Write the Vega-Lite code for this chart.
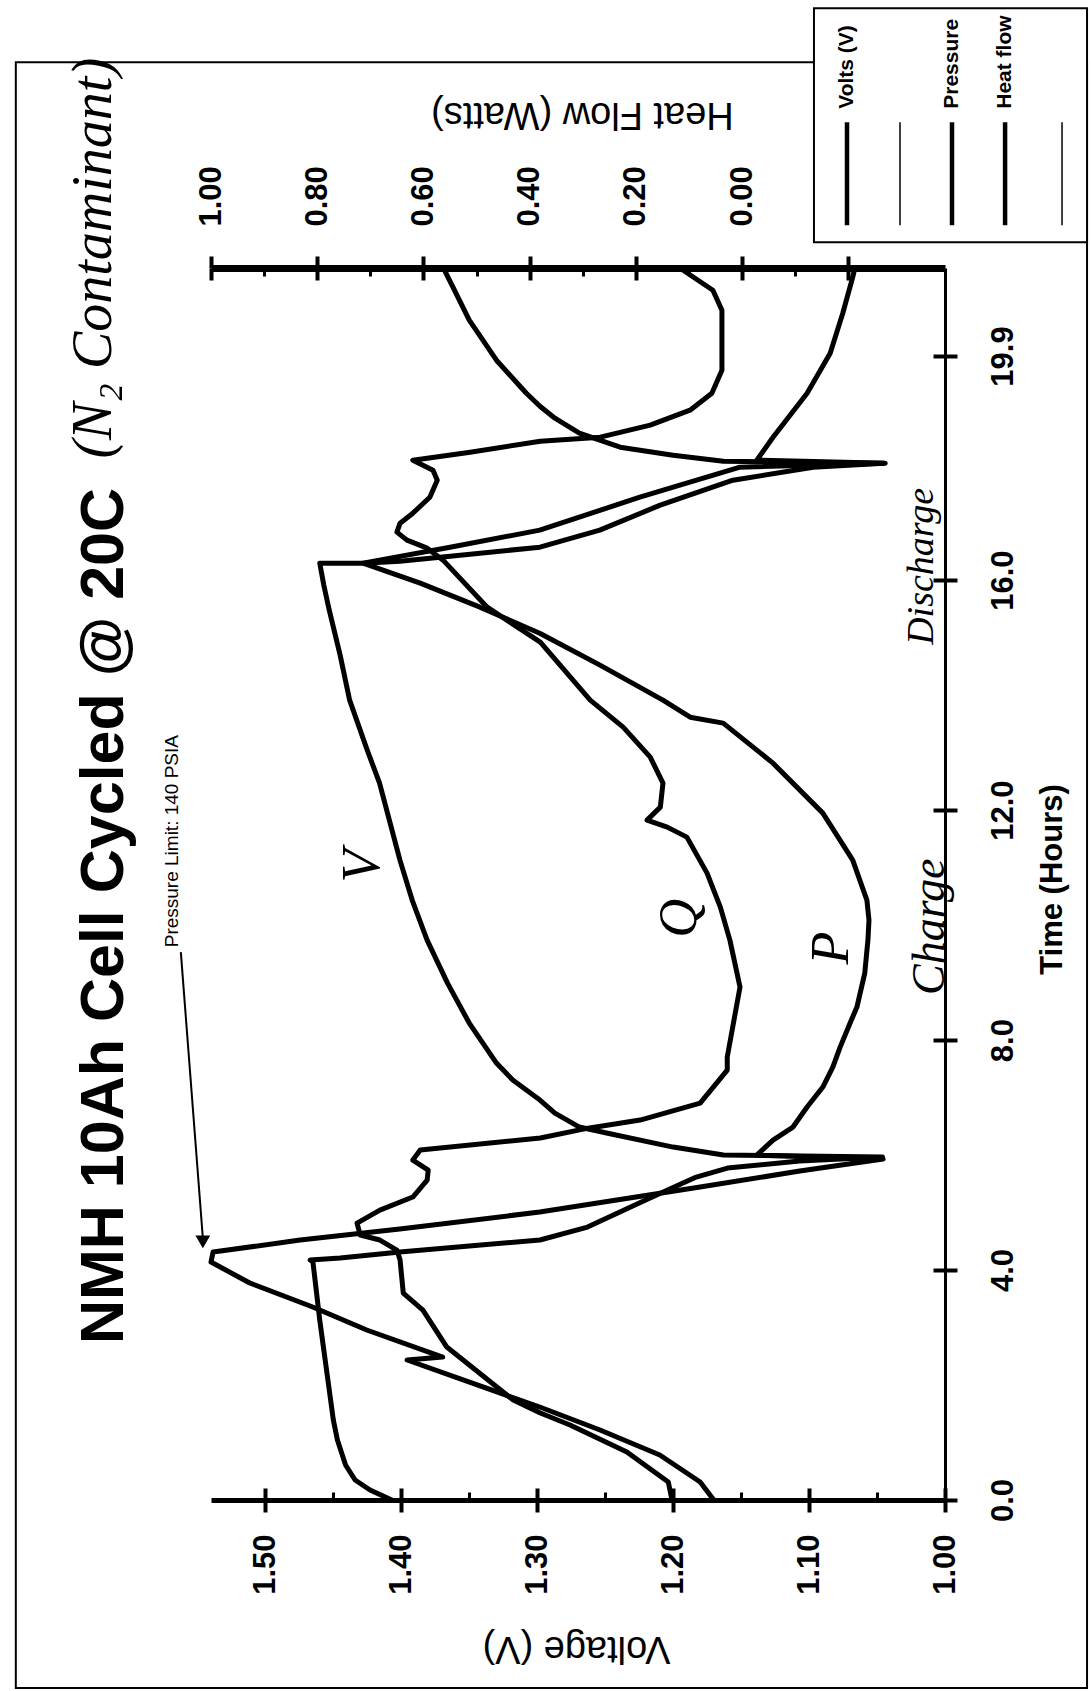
{
  "$schema": "https://vega.github.io/schema/vega-lite/v6.json",
  "width": 734,
  "height": 1232,
  "autosize": {"type": "none"},
  "padding": {"left": 211, "top": 268, "right": 146, "bottom": 191},
  "background": "white",
  "title": {
    "text": "NMH 10Ah Cell Cycled @ 20C",
    "orient": "left",
    "anchor": "middle",
    "frame": "group",
    "font": "Liberation Sans",
    "fontSize": 61,
    "fontWeight": "bold",
    "color": "black",
    "baseline": "alphabetic",
    "offset": -169,
    "dx": -32
  },
  "datasets": {
    "volts": [
      {"s":"Volts (V)","i":0,"t":0.0,"v":1.407},{"s":"Volts (V)","i":1,"t":0.174,"v":1.423},{"s":"Volts (V)","i":2,"t":0.348,"v":1.434},
      {"s":"Volts (V)","i":3,"t":0.609,"v":1.441},{"s":"Volts (V)","i":4,"t":1.043,"v":1.447},{"s":"Volts (V)","i":5,"t":1.391,"v":1.450},
      {"s":"Volts (V)","i":6,"t":2.087,"v":1.454},{"s":"Volts (V)","i":7,"t":3.130,"v":1.460},{"s":"Volts (V)","i":8,"t":4.139,"v":1.465},
      {"s":"Volts (V)","i":9,"t":4.174,"v":1.467},{"s":"Volts (V)","i":10,"t":4.209,"v":1.445},{"s":"Volts (V)","i":11,"t":4.313,"v":1.401},
      {"s":"Volts (V)","i":12,"t":4.417,"v":1.350},{"s":"Volts (V)","i":13,"t":4.522,"v":1.298},{"s":"Volts (V)","i":14,"t":4.748,"v":1.263},
      {"s":"Volts (V)","i":15,"t":5.252,"v":1.217},{"s":"Volts (V)","i":16,"t":5.617,"v":1.183},{"s":"Volts (V)","i":17,"t":5.774,"v":1.160},
      {"s":"Volts (V)","i":18,"t":5.896,"v":1.107},{"s":"Volts (V)","i":19,"t":5.965,"v":1.046},{"s":"Volts (V)","i":20,"t":6.000,"v":1.163},
      {"s":"Volts (V)","i":21,"t":6.139,"v":1.200},{"s":"Volts (V)","i":22,"t":6.383,"v":1.249},{"s":"Volts (V)","i":23,"t":6.487,"v":1.269},
      {"s":"Volts (V)","i":24,"t":6.730,"v":1.287},{"s":"Volts (V)","i":25,"t":6.957,"v":1.298},{"s":"Volts (V)","i":26,"t":7.304,"v":1.318},
      {"s":"Volts (V)","i":27,"t":7.600,"v":1.330},{"s":"Volts (V)","i":28,"t":8.296,"v":1.350},{"s":"Volts (V)","i":29,"t":8.991,"v":1.366},
      {"s":"Volts (V)","i":30,"t":9.739,"v":1.381},{"s":"Volts (V)","i":31,"t":10.435,"v":1.392},{"s":"Volts (V)","i":32,"t":11.130,"v":1.401},
      {"s":"Volts (V)","i":33,"t":12.470,"v":1.416},{"s":"Volts (V)","i":34,"t":13.040,"v":1.425},{"s":"Volts (V)","i":35,"t":13.913,"v":1.438},
      {"s":"Volts (V)","i":36,"t":14.696,"v":1.445},{"s":"Volts (V)","i":37,"t":15.478,"v":1.453},{"s":"Volts (V)","i":38,"t":15.913,"v":1.457},
      {"s":"Volts (V)","i":39,"t":16.296,"v":1.460},{"s":"Volts (V)","i":40,"t":16.296,"v":1.428},{"s":"Volts (V)","i":41,"t":16.330,"v":1.401},
      {"s":"Volts (V)","i":42,"t":16.417,"v":1.364},{"s":"Volts (V)","i":43,"t":16.574,"v":1.298},{"s":"Volts (V)","i":44,"t":16.870,"v":1.254},
      {"s":"Volts (V)","i":45,"t":17.300,"v":1.210},{"s":"Volts (V)","i":46,"t":17.739,"v":1.156},{"s":"Volts (V)","i":47,"t":17.965,"v":1.097},
      {"s":"Volts (V)","i":48,"t":18.035,"v":1.045},{"s":"Volts (V)","i":49,"t":18.070,"v":1.163},{"s":"Volts (V)","i":50,"t":18.174,"v":1.200},
      {"s":"Volts (V)","i":51,"t":18.313,"v":1.239},{"s":"Volts (V)","i":52,"t":18.557,"v":1.269},{"s":"Volts (V)","i":53,"t":18.817,"v":1.287},
      {"s":"Volts (V)","i":54,"t":19.026,"v":1.298},{"s":"Volts (V)","i":55,"t":19.252,"v":1.308},{"s":"Volts (V)","i":56,"t":19.826,"v":1.330},
      {"s":"Volts (V)","i":57,"t":20.522,"v":1.350},{"s":"Volts (V)","i":58,"t":21.096,"v":1.362},{"s":"Volts (V)","i":59,"t":21.426,"v":1.369}
    ],
    "pressure": [
      {"s":"Pressure","i":0,"t":0.0,"p":44.1},{"s":"Pressure","i":1,"t":0.313,"p":46.7},{"s":"Pressure","i":2,"t":0.783,"p":54.4},
      {"s":"Pressure","i":3,"t":1.217,"p":65.8},{"s":"Pressure","i":4,"t":1.617,"p":77.3},{"s":"Pressure","i":5,"t":2.435,"p":102.6},
      {"s":"Pressure","i":6,"t":2.487,"p":95.8},{"s":"Pressure","i":7,"t":2.957,"p":110.3},{"s":"Pressure","i":8,"t":3.357,"p":120.6},
      {"s":"Pressure","i":9,"t":3.774,"p":132.6},{"s":"Pressure","i":10,"t":4.139,"p":140.0},{"s":"Pressure","i":11,"t":4.313,"p":139.6},
      {"s":"Pressure","i":12,"t":4.522,"p":123.0},{"s":"Pressure","i":13,"t":4.713,"p":104.0},{"s":"Pressure","i":14,"t":5.009,"p":77.3},
      {"s":"Pressure","i":15,"t":5.443,"p":46.7},{"s":"Pressure","i":16,"t":5.722,"p":27.7},{"s":"Pressure","i":17,"t":5.930,"p":11.8},
      {"s":"Pressure","i":18,"t":6.000,"p":35.9},{"s":"Pressure","i":19,"t":6.261,"p":32.8},{"s":"Pressure","i":20,"t":6.487,"p":29.0},
      {"s":"Pressure","i":21,"t":6.835,"p":26.3},{"s":"Pressure","i":22,"t":7.183,"p":23.3},{"s":"Pressure","i":23,"t":7.530,"p":21.4},
      {"s":"Pressure","i":24,"t":7.878,"p":20.0},{"s":"Pressure","i":25,"t":8.296,"p":18.1},{"s":"Pressure","i":26,"t":8.574,"p":16.8},
      {"s":"Pressure","i":27,"t":9.165,"p":15.3},{"s":"Pressure","i":28,"t":9.739,"p":14.7},{"s":"Pressure","i":29,"t":10.087,"p":14.5},
      {"s":"Pressure","i":30,"t":10.435,"p":14.9},{"s":"Pressure","i":31,"t":11.130,"p":17.6},{"s":"Pressure","i":32,"t":11.948,"p":23.3},
      {"s":"Pressure","i":33,"t":12.817,"p":32.8},{"s":"Pressure","i":34,"t":13.513,"p":42.3},{"s":"Pressure","i":35,"t":13.617,"p":48.6},
      {"s":"Pressure","i":36,"t":13.913,"p":53.8},{"s":"Pressure","i":37,"t":14.522,"p":65.8},{"s":"Pressure","i":38,"t":15.078,"p":77.3},
      {"s":"Pressure","i":39,"t":15.530,"p":88.7},{"s":"Pressure","i":40,"t":15.948,"p":100.1},{"s":"Pressure","i":41,"t":16.296,"p":111.0},
      {"s":"Pressure","i":42,"t":16.574,"p":94.4},{"s":"Pressure","i":43,"t":16.870,"p":77.3},{"s":"Pressure","i":44,"t":17.443,"p":58.2},
      {"s":"Pressure","i":45,"t":17.965,"p":39.1},{"s":"Pressure","i":46,"t":18.035,"p":11.4},{"s":"Pressure","i":47,"t":18.087,"p":35.9},
      {"s":"Pressure","i":48,"t":18.487,"p":32.8},{"s":"Pressure","i":49,"t":19.252,"p":26.3},{"s":"Pressure","i":50,"t":19.948,"p":21.9},
      {"s":"Pressure","i":51,"t":20.643,"p":19.5},{"s":"Pressure","i":52,"t":21.270,"p":17.6},{"s":"Pressure","i":53,"t":21.426,"p":17.2}
    ],
    "heat": [
      {"s":"Heat flow","i":0,"t":0.0,"h":0.132},{"s":"Heat flow","i":1,"t":0.313,"h":0.139},{"s":"Heat flow","i":2,"t":0.835,"h":0.217},
      {"s":"Heat flow","i":3,"t":1.304,"h":0.324},{"s":"Heat flow","i":4,"t":1.513,"h":0.380},{"s":"Heat flow","i":5,"t":1.739,"h":0.431},
      {"s":"Heat flow","i":6,"t":2.661,"h":0.556},{"s":"Heat flow","i":7,"t":3.304,"h":0.601},{"s":"Heat flow","i":8,"t":3.600,"h":0.638},
      {"s":"Heat flow","i":9,"t":4.174,"h":0.644},{"s":"Heat flow","i":10,"t":4.348,"h":0.650},{"s":"Heat flow","i":11,"t":4.522,"h":0.682},
      {"s":"Heat flow","i":12,"t":4.609,"h":0.719},{"s":"Heat flow","i":13,"t":4.817,"h":0.725},{"s":"Heat flow","i":14,"t":5.043,"h":0.682},
      {"s":"Heat flow","i":15,"t":5.270,"h":0.620},{"s":"Heat flow","i":16,"t":5.565,"h":0.593},{"s":"Heat flow","i":17,"t":5.739,"h":0.591},
      {"s":"Heat flow","i":18,"t":5.913,"h":0.620},{"s":"Heat flow","i":19,"t":6.087,"h":0.606},{"s":"Heat flow","i":20,"t":6.296,"h":0.380},
      {"s":"Heat flow","i":21,"t":6.452,"h":0.299},{"s":"Heat flow","i":22,"t":6.609,"h":0.192},{"s":"Heat flow","i":23,"t":6.904,"h":0.079},
      {"s":"Heat flow","i":24,"t":7.478,"h":0.028},{"s":"Heat flow","i":25,"t":7.704,"h":0.028},{"s":"Heat flow","i":26,"t":8.922,"h":0.004},
      {"s":"Heat flow","i":27,"t":9.739,"h":0.023},{"s":"Heat flow","i":28,"t":10.313,"h":0.041},{"s":"Heat flow","i":29,"t":10.904,"h":0.066},
      {"s":"Heat flow","i":30,"t":11.530,"h":0.104},{"s":"Heat flow","i":31,"t":11.704,"h":0.141},{"s":"Heat flow","i":32,"t":11.826,"h":0.179},
      {"s":"Heat flow","i":33,"t":12.052,"h":0.154},{"s":"Heat flow","i":34,"t":12.470,"h":0.149},{"s":"Heat flow","i":35,"t":12.922,"h":0.173},
      {"s":"Heat flow","i":36,"t":13.443,"h":0.224},{"s":"Heat flow","i":37,"t":13.913,"h":0.286},{"s":"Heat flow","i":38,"t":14.922,"h":0.380},
      {"s":"Heat flow","i":39,"t":15.530,"h":0.480},{"s":"Heat flow","i":40,"t":16.348,"h":0.563},{"s":"Heat flow","i":41,"t":16.557,"h":0.593},
      {"s":"Heat flow","i":42,"t":16.696,"h":0.631},{"s":"Heat flow","i":43,"t":16.835,"h":0.650},{"s":"Heat flow","i":44,"t":16.991,"h":0.644},
      {"s":"Heat flow","i":45,"t":17.165,"h":0.620},{"s":"Heat flow","i":46,"t":17.443,"h":0.588},{"s":"Heat flow","i":47,"t":17.739,"h":0.574},
      {"s":"Heat flow","i":48,"t":17.913,"h":0.582},{"s":"Heat flow","i":49,"t":18.087,"h":0.620},{"s":"Heat flow","i":50,"t":18.226,"h":0.512},
      {"s":"Heat flow","i":51,"t":18.417,"h":0.380},{"s":"Heat flow","i":52,"t":18.487,"h":0.267},{"s":"Heat flow","i":53,"t":18.696,"h":0.173},
      {"s":"Heat flow","i":54,"t":18.957,"h":0.098},{"s":"Heat flow","i":55,"t":19.252,"h":0.057},{"s":"Heat flow","i":56,"t":19.652,"h":0.038},
      {"s":"Heat flow","i":57,"t":20.696,"h":0.038},{"s":"Heat flow","i":58,"t":21.043,"h":0.055},{"s":"Heat flow","i":59,"t":21.391,"h":0.111}
    ]
  },
  "layer": [
    {
      "data": {"values": [{}]},
      "mark": {"type": "rect", "filled": false, "stroke": "black", "strokeWidth": 2},
      "encoding": {
        "x": {"datum": 1.6836, "type": "quantitative", "scale": {"domain": [1.0, 1.54], "reverse": true, "nice": false, "zero": false}, "axis": null},
        "x2": {"datum": 0.8955},
        "y": {"datum": 25.01, "type": "quantitative", "scale": {"domain": [0, 21.43], "nice": false, "zero": false}, "axis": null},
        "y2": {"datum": -3.27}
      }
    },
    {
      "data": {"name": "volts"},
      "mark": {"type": "line", "color": "black", "strokeWidth": 5, "strokeJoin": "round", "strokeCap": "round"},
      "encoding": {
        "x": {
          "field": "v", "type": "quantitative",
          "scale": {"domain": [1.0, 1.54], "reverse": true, "nice": false, "zero": false},
          "axis": {
            "orient": "bottom", "values": [1.0, 1.1, 1.2, 1.3, 1.4, 1.5], "format": ".2f",
            "title": "Voltage (V)", "labelAngle": 270, "labelAlign": "right", "labelBaseline": "middle",
            "labelPadding": 22, "tickSize": 12, "tickWidth": 4, "domainWidth": 5,
            "titleX": 365, "titleY": 147, "titleAngle": 180, "titleAlign": "center", "titleBaseline": "middle",
            "titleFont": "Liberation Sans", "titleFontSize": 38, "titleFontWeight": "normal"
          }
        },
        "y": {
          "field": "t", "type": "quantitative",
          "scale": {"domain": [0, 21.43], "nice": false, "zero": false},
          "axis": {
            "orient": "right", "values": [0, 4, 8, 12, 16, 19.9], "format": ".1f",
            "title": "Time (Hours)", "labelAngle": 270, "labelAlign": "center", "labelBaseline": "top",
            "labelPadding": 31, "tickSize": 12, "tickWidth": 4, "domainWidth": 3,
            "titleX": 107, "titleY": 611, "titleAngle": 270, "titleAlign": "center", "titleBaseline": "middle",
            "titleFont": "Liberation Sans", "titleFontSize": 31, "titleFontWeight": "bold"
          }
        },
        "order": {"field": "i"}
      }
    },
    {
      "data": {"name": "heat"},
      "mark": {"type": "line", "color": "black", "strokeWidth": 5, "strokeJoin": "round", "strokeCap": "round"},
      "encoding": {
        "x": {
          "field": "h", "type": "quantitative",
          "scale": {"domain": [-0.382, 1.0], "reverse": true, "nice": false, "zero": false},
          "axis": {
            "orient": "top", "values": [-0.2, 0, 0.2, 0.4, 0.6, 0.8, 1.0], "format": ".2f",
            "labelExpr": "datum.value < 0 ? '' : datum.label",
            "title": "Heat Flow (Watts)", "labelAngle": 270, "labelAlign": "left", "labelBaseline": "middle",
            "labelPadding": 30, "tickSize": 12, "tickWidth": 4, "domainWidth": 7,
            "titleX": 371, "titleY": -155, "titleAngle": 180, "titleAlign": "center", "titleBaseline": "middle",
            "titleFont": "Liberation Sans", "titleFontSize": 38, "titleFontWeight": "normal"
          }
        },
        "y": {"field": "t", "type": "quantitative", "scale": {"domain": [0, 21.43], "nice": false, "zero": false}, "axis": null},
        "order": {"field": "i"}
      }
    },
    {
      "data": {"name": "pressure"},
      "mark": {"type": "line", "color": "black", "strokeWidth": 5, "strokeJoin": "round", "strokeCap": "round"},
      "encoding": {
        "x": {"field": "p", "type": "quantitative", "scale": {"domain": [0, 140], "reverse": true, "nice": false, "zero": false}, "axis": null},
        "y": {"field": "t", "type": "quantitative", "scale": {"domain": [0, 21.43], "nice": false, "zero": false}, "axis": null},
        "order": {"field": "i"}
      }
    },
    {
      "data": {"values": []},
      "mark": "point",
      "encoding": {
        "x": {"field": "v", "type": "quantitative", "scale": {"domain": [1.0, 1.54], "reverse": true, "nice": false, "zero": false},
              "axis": {"orient": "bottom", "values": [1.0, 1.1, 1.2, 1.3, 1.4, 1.5], "labels": false, "domain": false, "title": null, "tickSize": -12, "tickWidth": 4}}
      }
    },
    {
      "data": {"values": []},
      "mark": "point",
      "encoding": {
        "x": {"field": "v", "type": "quantitative", "scale": {"domain": [1.0, 1.54], "reverse": true, "nice": false, "zero": false},
              "axis": {"orient": "bottom", "values": [1.05, 1.15, 1.25, 1.35, 1.45], "labels": false, "domain": false, "title": null, "tickSize": -8, "tickWidth": 3}}
      }
    },
    {
      "data": {"values": []},
      "mark": "point",
      "encoding": {
        "x": {"field": "h", "type": "quantitative", "scale": {"domain": [-0.382, 1.0], "reverse": true, "nice": false, "zero": false},
              "axis": {"orient": "top", "values": [-0.2, 0, 0.2, 0.4, 0.6, 0.8, 1.0], "labels": false, "domain": false, "title": null, "tickSize": -12, "tickWidth": 4}}
      }
    },
    {
      "data": {"values": []},
      "mark": "point",
      "encoding": {
        "x": {"field": "h", "type": "quantitative", "scale": {"domain": [-0.382, 1.0], "reverse": true, "nice": false, "zero": false},
              "axis": {"orient": "top", "values": [-0.1, 0.1, 0.3, 0.5, 0.7, 0.9], "labels": false, "domain": false, "title": null, "tickSize": -8, "tickWidth": 3}}
      }
    },
    {
      "data": {"values": []},
      "mark": "point",
      "encoding": {
        "y": {"field": "t", "type": "quantitative", "scale": {"domain": [0, 21.43], "nice": false, "zero": false},
              "axis": {"orient": "right", "values": [0, 4, 8, 12, 16, 19.9], "labels": false, "domain": false, "title": null, "tickSize": -12, "tickWidth": 4}}
      }
    },
    {
      "data": {"values": [{"txt": "V", "t": 11.03, "v": 1.428}, {"txt": "Q", "t": 10.12, "v": 1.195}, {"txt": "P", "t": 9.6, "v": 1.083}]},
      "mark": {"type": "text", "angle": 270, "font": "Liberation Serif", "fontStyle": "italic", "fontSize": 54, "align": "center", "baseline": "middle", "color": "black"},
      "encoding": {
        "x": {"field": "v", "type": "quantitative", "scale": {"domain": [1.0, 1.54], "reverse": true, "nice": false, "zero": false}, "axis": null},
        "y": {"field": "t", "type": "quantitative", "scale": {"domain": [0, 21.43], "nice": false, "zero": false}, "axis": null},
        "text": {"field": "txt"}
      }
    },
    {
      "data": {"values": [{"txt": "Charge", "t": 9.97, "v": 1.011}]},
      "mark": {"type": "text", "angle": 270, "font": "Liberation Serif", "fontStyle": "italic", "fontSize": 46, "align": "center", "baseline": "middle", "color": "black"},
      "encoding": {
        "x": {"field": "v", "type": "quantitative", "scale": {"domain": [1.0, 1.54], "reverse": true, "nice": false, "zero": false}, "axis": null},
        "y": {"field": "t", "type": "quantitative", "scale": {"domain": [0, 21.43], "nice": false, "zero": false}, "axis": null},
        "text": {"field": "txt"}
      }
    },
    {
      "data": {"values": [{"txt": "Discharge", "t": 16.24, "v": 1.017}]},
      "mark": {"type": "text", "angle": 270, "font": "Liberation Serif", "fontStyle": "italic", "fontSize": 38, "align": "center", "baseline": "middle", "color": "black"},
      "encoding": {
        "x": {"field": "v", "type": "quantitative", "scale": {"domain": [1.0, 1.54], "reverse": true, "nice": false, "zero": false}, "axis": null},
        "y": {"field": "t", "type": "quantitative", "scale": {"domain": [0, 21.43], "nice": false, "zero": false}, "axis": null},
        "text": {"field": "txt"}
      }
    },
    {
      "data": {"values": [{"txt": "(N₂ Contaminant)", "t": 21.6, "v": 1.626}]},
      "mark": {"type": "text", "angle": 270, "font": "Liberation Serif", "fontStyle": "italic", "fontSize": 56, "align": "center", "baseline": "middle", "color": "black"},
      "encoding": {
        "x": {"field": "v", "type": "quantitative", "scale": {"domain": [1.0, 1.54], "reverse": true, "nice": false, "zero": false}, "axis": null},
        "y": {"field": "t", "type": "quantitative", "scale": {"domain": [0, 21.43], "nice": false, "zero": false}, "axis": null},
        "text": {"field": "txt"}
      }
    },
    {
      "data": {"values": [{"txt": "Pressure Limit: 140 PSIA", "t": 11.46, "v": 1.5688}]},
      "mark": {"type": "text", "angle": 270, "font": "Liberation Sans", "fontSize": 19, "align": "center", "baseline": "middle", "color": "black"},
      "encoding": {
        "x": {"field": "v", "type": "quantitative", "scale": {"domain": [1.0, 1.54], "reverse": true, "nice": false, "zero": false}, "axis": null},
        "y": {"field": "t", "type": "quantitative", "scale": {"domain": [0, 21.43], "nice": false, "zero": false}, "axis": null},
        "text": {"field": "txt"}
      }
    },
    {
      "data": {"values": [{}]},
      "mark": {"type": "rule", "strokeWidth": 2, "color": "black"},
      "encoding": {
        "x": {"datum": 1.5622, "type": "quantitative", "scale": {"domain": [1.0, 1.54], "reverse": true, "nice": false, "zero": false}, "axis": null},
        "x2": {"datum": 1.546},
        "y": {"datum": 9.53, "type": "quantitative", "scale": {"domain": [0, 21.43], "nice": false, "zero": false}, "axis": null},
        "y2": {"datum": 4.557}
      }
    },
    {
      "data": {"values": [{}]},
      "mark": {"type": "point", "shape": "triangle-down", "filled": true, "size": 220, "color": "black", "opacity": 1},
      "encoding": {
        "x": {"datum": 1.546, "type": "quantitative", "scale": {"domain": [1.0, 1.54], "reverse": true, "nice": false, "zero": false}, "axis": null},
        "y": {"datum": 4.49, "type": "quantitative", "scale": {"domain": [0, 21.43], "nice": false, "zero": false}, "axis": null}
      }
    },
    {
      "data": {"values": [{}]},
      "mark": {"type": "rect", "fill": "white", "stroke": "black", "strokeWidth": 2},
      "encoding": {
        "x": {"datum": 1.0964, "type": "quantitative", "scale": {"domain": [1.0, 1.54], "reverse": true, "nice": false, "zero": false}, "axis": null},
        "x2": {"datum": 0.8955},
        "y": {"datum": 25.948, "type": "quantitative", "scale": {"domain": [0, 21.43], "nice": false, "zero": false}, "axis": null},
        "y2": {"datum": 21.878}
      }
    },
    {
      "data": {"values": [{"s": "Volts (V)", "v": 1.0721}, {"s": "Pressure", "v": 0.99485}, {"s": "Heat flow", "v": 0.9558}]},
      "mark": {"type": "rule", "strokeWidth": 4.5, "color": "black"},
      "encoding": {
        "x": {"field": "v", "type": "quantitative", "scale": {"domain": [1.0, 1.54], "reverse": true, "nice": false, "zero": false}, "axis": null},
        "y": {"datum": 23.965, "type": "quantitative", "scale": {"domain": [0, 21.43], "nice": false, "zero": false}, "axis": null},
        "y2": {"datum": 22.174}
      }
    },
    {
      "data": {"values": [{"s": "", "v": 1.0331}, {"s": "", "v": 0.9139}]},
      "mark": {"type": "rule", "strokeWidth": 1.5, "color": "black"},
      "encoding": {
        "x": {"field": "v", "type": "quantitative", "scale": {"domain": [1.0, 1.54], "reverse": true, "nice": false, "zero": false}, "axis": null},
        "y": {"datum": 23.965, "type": "quantitative", "scale": {"domain": [0, 21.43], "nice": false, "zero": false}, "axis": null},
        "y2": {"datum": 22.174}
      }
    },
    {
      "data": {"values": [{"s": "Volts (V)", "v": 1.0721}, {"s": "Pressure", "v": 0.99485}, {"s": "Heat flow", "v": 0.9558}]},
      "mark": {"type": "text", "angle": 270, "font": "Liberation Sans", "fontWeight": "bold", "fontSize": 21, "align": "left", "baseline": "middle", "color": "black"},
      "encoding": {
        "x": {"field": "v", "type": "quantitative", "scale": {"domain": [1.0, 1.54], "reverse": true, "nice": false, "zero": false}, "axis": null},
        "y": {"datum": 24.2, "type": "quantitative", "scale": {"domain": [0, 21.43], "nice": false, "zero": false}, "axis": null},
        "text": {"field": "s"}
      }
    }
  ],
  "resolve": {
    "scale": {"x": "independent", "y": "independent"},
    "axis": {"x": "independent", "y": "independent"}
  },
  "config": {
    "view": {"stroke": null},
    "axis": {
      "domainColor": "black", "tickColor": "black", "labelColor": "black", "titleColor": "black", "grid": false,
      "labelFont": "Liberation Sans", "labelFontWeight": "bold", "labelFontSize": 31,
      "labelFlush": false, "labelOverlap": false, "titlePadding": 0
    }
  }
}
